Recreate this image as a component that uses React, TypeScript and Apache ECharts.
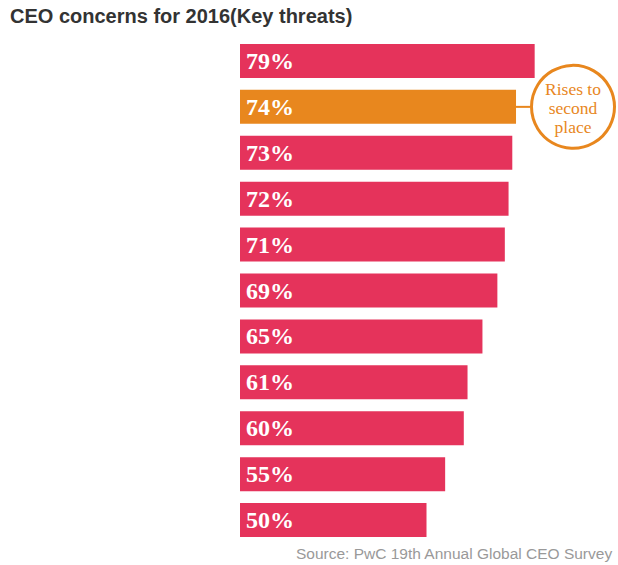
import React, { useEffect, useRef } from "react";
import * as echarts from "echarts";

const categories = [
  "Threat 1", "Threat 2", "Threat 3", "Threat 4", "Threat 5", "Threat 6",
  "Threat 7", "Threat 8", "Threat 9", "Threat 10", "Threat 11",
];
const values = [79, 74, 73, 72, 71, 69, 65, 61, 60, 55, 50];
const highlightIndex = 1;
const titleText = "CEO concerns for 2016(Key threats)";
const sourceText = "Source: PwC 19th Annual Global CEO Survey";
const calloutText = "Rises to\nsecond\nplace";

const PINK = "#E5335B";
const ORANGE = "#E8871E";

export default function App() {
  const ref = useRef<HTMLDivElement>(null);
  useEffect(() => {
    document.body.style.margin = "0";
    document.body.style.background = "#ffffff";
    const chart = echarts.init(ref.current!, null, { renderer: "svg" });
    const sourceGraphic = {
      type: "text",
      right: 5,
      bottom: 4,
      style: {
        text: sourceText,
        fontFamily: "Liberation Sans, Arial, sans-serif",
        fontSize: 15.5,
        fill: "#999999",
      },
    };
    chart.setOption({
      animation: false,
      backgroundColor: "#ffffff",
      title: {
        text: titleText,
        left: 5,
        top: 1,
        textStyle: {
          fontFamily: "Liberation Sans, Arial, sans-serif",
          fontWeight: "bold",
          fontSize: 20,
          color: "#333333",
        },
      },
      grid: { left: 240, right: 5, top: 38, bottom: 22, containLabel: false },
      xAxis: {
        type: "value",
        min: 0,
        max: 100,
        show: false,
      },
      yAxis: {
        type: "category",
        data: categories,
        inverse: true,
        axisLine: { show: false },
        axisTick: { show: false },
        axisLabel: { show: false },
      },
      series: [
        {
          type: "bar",
          barWidth: 34,
          data: values.map((v, i) => ({
            value: v,
            itemStyle: { color: i === highlightIndex ? ORANGE : PINK },
          })),
          label: {
            show: true,
            position: "insideLeft",
            distance: 6,
            formatter: "{c}%",
            color: "#ffffff",
            fontFamily: "Liberation Serif, Georgia, serif",
            fontWeight: "bold",
            fontSize: 24,
          },
        },
      ],
      graphic: [sourceGraphic],
    });

    const end = chart.convertToPixel({ gridIndex: 0 }, [values[highlightIndex], highlightIndex]) as number[];
    const r = 43;
    const cx = 573;
    const cy = end[1];
    chart.setOption({
      graphic: [
        sourceGraphic,
        {
          type: "line",
          shape: { x1: end[0], y1: cy, x2: cx - r, y2: cy },
          style: { stroke: ORANGE, lineWidth: 2 },
        },
        {
          type: "circle",
          shape: { cx, cy, r: r - 1.5 },
          style: { fill: "#ffffff", stroke: ORANGE, lineWidth: 3 },
        },
        {
          type: "text",
          x: cx,
          y: cy + 1,
          style: {
            text: calloutText,
            align: "center",
            verticalAlign: "middle",
            fontFamily: "Liberation Serif, Georgia, serif",
            fontSize: 17.5,
            lineHeight: 19,
            fill: ORANGE,
          },
        },
      ],
    });
    return () => chart.dispose();
  }, []);
  return <div ref={ref} style={{ width: 618, height: 565 }} />;
}
